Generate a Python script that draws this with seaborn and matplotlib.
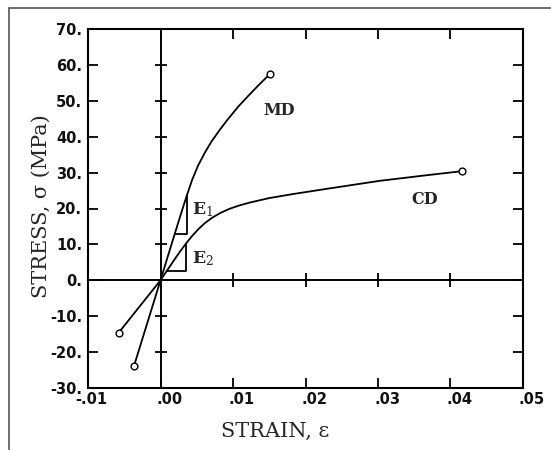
import matplotlib
matplotlib.use("Agg")
import matplotlib.pyplot as plt
from matplotlib.patches import Rectangle
import pandas as pd
import seaborn as sns

# Stress-strain curves, machine direction (MD) and cross direction (CD)
md_strain = [-0.00366, 0.0, 0.001, 0.00196, 0.00288, 0.00366, 0.00435, 0.00517,
             0.0061, 0.00702, 0.00817, 0.00931, 0.01069, 0.01207, 0.0135, 0.01506]
md_stress = [-23.9, 0.0, 6.6, 12.9, 18.9, 23.8, 27.9, 31.9,
             35.5, 38.6, 41.9, 44.9, 48.3, 51.3, 54.3, 57.4]

cd_strain = [-0.00577, 0.0, 0.0009, 0.0021, 0.0028, 0.0035, 0.0043, 0.0052, 0.0061,
             0.0071, 0.0083, 0.0095, 0.0108, 0.0122, 0.0150, 0.0185, 0.0230,
             0.0302, 0.0360, 0.0416]
cd_stress = [-14.6, 0.0, 2.7, 6.3, 8.3, 10.2, 12.2, 14.2, 15.9,
             17.4, 18.8, 19.9, 20.8, 21.6, 22.9, 24.1, 25.5,
             27.7, 29.1, 30.4]

# Slope triangles for the moduli E1 and E2
e1_strain = [0.00196, 0.00366, 0.00366]
e1_stress = [12.9, 12.9, 23.8]
e2_strain = [0.00095, 0.00348, 0.00348]
e2_stress = [2.6, 2.6, 10.0]

x_ticks = [-0.01, 0.0, 0.01, 0.02, 0.03, 0.04, 0.05]
x_tick_labels = ["-.01", ".00", ".01", ".02", ".03", ".04", ".05"]
y_ticks = [-30, -20, -10, 0, 10, 20, 30, 40, 50, 60, 70]
y_tick_labels = ["-30.", "-20.", "-10.", "0.", "10.", "20.", "30.",
                 "40.", "50.", "60.", "70."]

sns.set_theme(style="ticks")
plt.rcParams["font.family"] = ["DejaVu Serif"]
plt.rcParams["mathtext.fontset"] = "dejavuserif"

W, H = 551, 450
fig = plt.figure(figsize=(W / 100, H / 100), dpi=100)
fig.patch.set_facecolor("white")
ax = fig.add_axes([88 / W, 1 - 388 / H, 435 / W, 359 / H])

PX = 0.72  # points per pixel at 100 dpi

md = pd.DataFrame({"strain": md_strain, "stress": md_stress})
cd = pd.DataFrame({"strain": cd_strain, "stress": cd_stress})

# zero axes through the origin, with their own cross ticks
ax.axhline(0, color="black", lw=1.4, zorder=1)
ax.axvline(0, color="black", lw=1.4, zorder=1)
inner_x = [v for v in x_ticks if x_ticks[0] < v < x_ticks[-1] and v != 0]
inner_y = [v for v in y_ticks if y_ticks[0] < v < y_ticks[-1] and v != 0]
ax.plot(inner_x, [0] * len(inner_x), ls="none", marker="|", ms=10, mew=1.3, color="black")
ax.plot([0] * len(inner_y), inner_y, ls="none", marker="_", ms=9, mew=1.3, color="black")

sns.lineplot(data=md, x="strain", y="stress", color="black", lw=1.3,
             estimator=None, sort=False, ax=ax)
sns.lineplot(data=cd, x="strain", y="stress", color="black", lw=1.3,
             estimator=None, sort=False, ax=ax)
ends = pd.concat([md.iloc[[0, -1]], cd.iloc[[0, -1]]])
sns.scatterplot(data=ends, x="strain", y="stress", marker="o", s=24,
                facecolor="white", edgecolor="black", linewidth=1.0,
                zorder=5, ax=ax)

ax.plot(e1_strain, e1_stress, color="black", lw=1.3)
ax.plot(e2_strain, e2_stress, color="black", lw=1.3)

ax.set_xlim(x_ticks[0], x_ticks[-1])
ax.set_ylim(y_ticks[0], y_ticks[-1])
ax.set_xticks(x_ticks)
ax.set_yticks(y_ticks)
ax.tick_params(direction="in", length=7.5, width=1.3, top=True, right=True,
               labelbottom=False, labelleft=False, color="black")
for sp in ax.spines.values():
    sp.set_linewidth(1.5)
    sp.set_color("black")
ax.set_xlabel("")
ax.set_ylabel("")

tick_font = dict(fontfamily="DejaVu Sans", fontweight="bold", fontsize=10.5,
                 color="#111111")
for v, lab in zip(x_ticks, x_tick_labels):
    dx = 3 if lab.startswith("-") else 9
    ax.annotate(lab, xy=(v, 0), xycoords=("data", "axes fraction"),
                xytext=(dx * PX, -11 * PX), textcoords="offset points",
                ha="center", va="center", **tick_font)
for v, lab in zip(y_ticks, y_tick_labels):
    ax.annotate(lab, xy=(0, v), xycoords=("axes fraction", "data"),
                xytext=(-6 * PX, -1.5 * PX), textcoords="offset points",
                ha="right", va="center", **tick_font)

ax.text(-0.108, 0.508, "STRESS, σ (MPa)", rotation=90, ha="center", va="center",
        transform=ax.transAxes, fontsize=15)
ax.text(0.431, -0.12, "STRAIN, ε", ha="center", va="center",
        transform=ax.transAxes, fontsize=15)

ax.text(0.01635, 47.2, "MD", ha="center", va="center", fontweight="bold", fontsize=11.5)
ax.text(0.0364, 22.6, "CD", ha="center", va="center", fontweight="bold", fontsize=11.5)
ax.text(0.0043, 19.6, "E$_1$", ha="left", va="center", fontweight="bold", fontsize=12.5)
ax.text(0.0044, 6.0, "E$_2$", ha="left", va="center", fontweight="bold", fontsize=12.5)

# outer frame of the figure panel
fig.add_artist(Rectangle((9 / W, -0.05), 1.2, 1.05 - 8 / H, transform=fig.transFigure,
                         fill=False, edgecolor="#555555", lw=1.2))

fig.savefig("out.png", dpi=100, facecolor="white")
